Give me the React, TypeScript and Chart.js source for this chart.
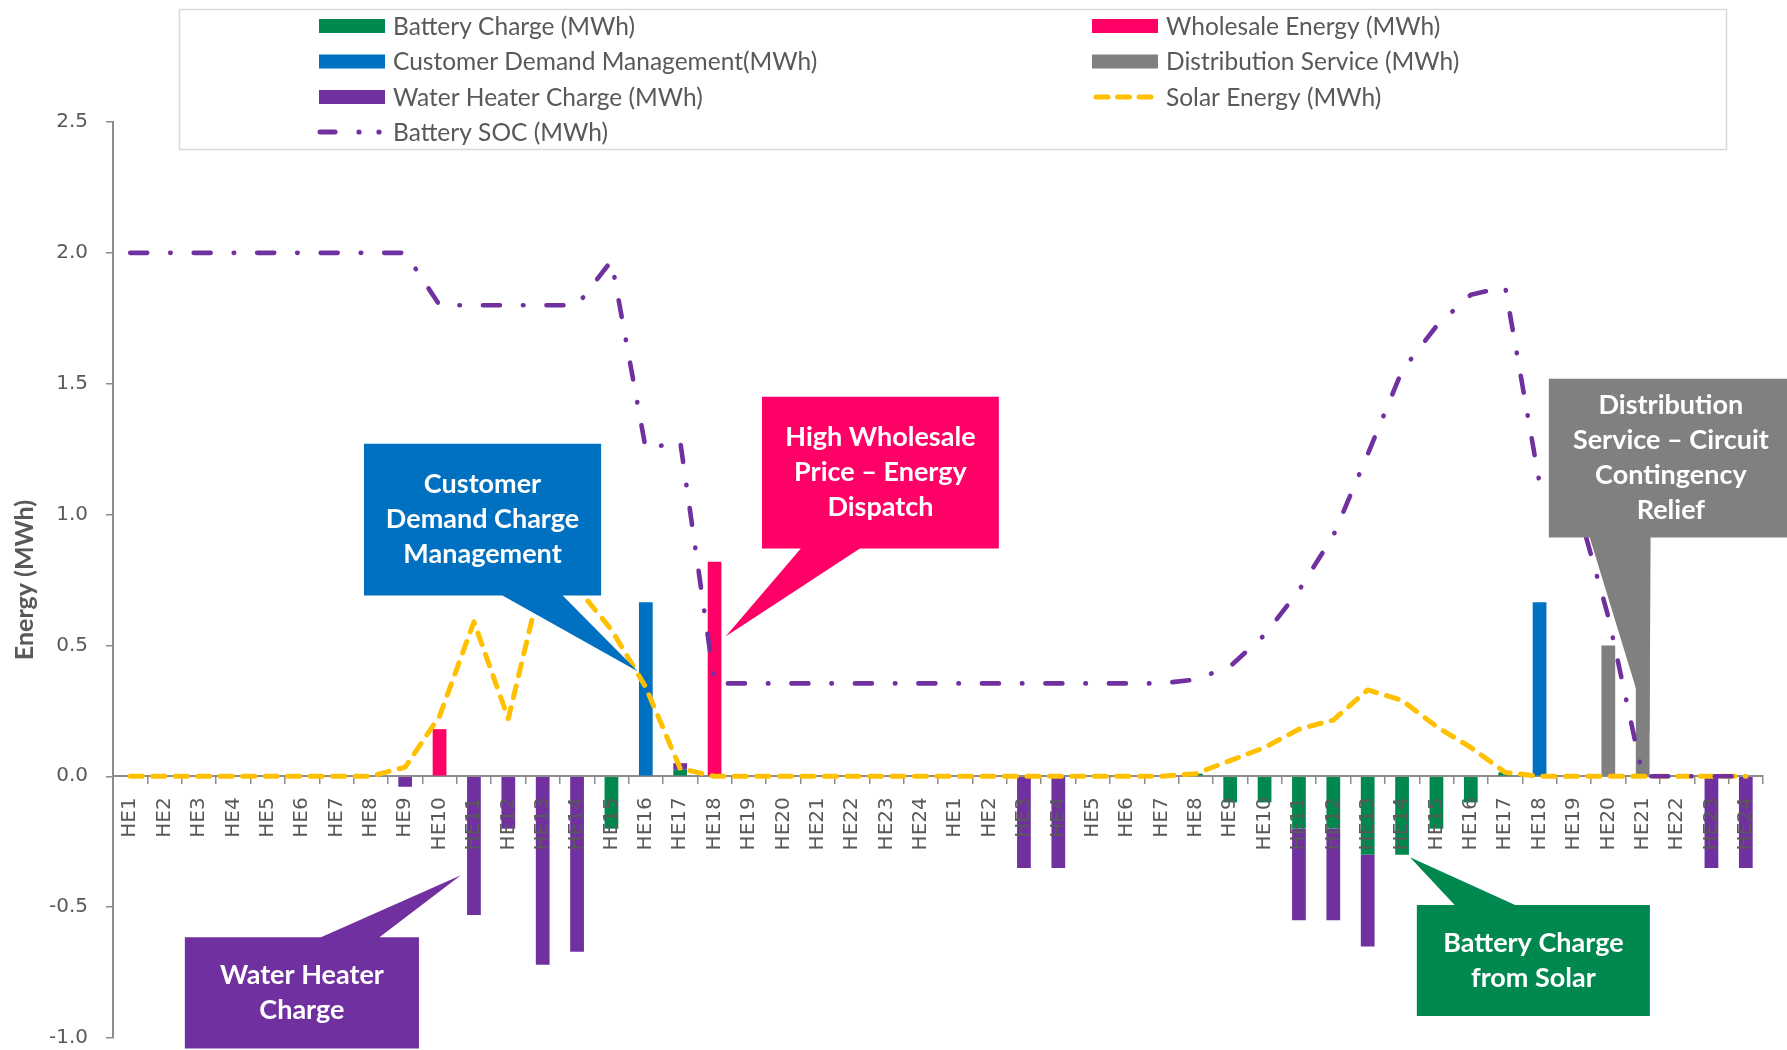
import React, { useEffect, useRef } from "react";
import { Chart, registerables } from "chart.js";
Chart.register(...registerables);

const hours = [
  "HE1", "HE2", "HE3", "HE4", "HE5", "HE6", "HE7", "HE8", "HE9", "HE10", "HE11", "HE12",
  "HE13", "HE14", "HE15", "HE16", "HE17", "HE18", "HE19", "HE20", "HE21", "HE22", "HE23", "HE24",
  "HE1", "HE2", "HE3", "HE4", "HE5", "HE6", "HE7", "HE8", "HE9", "HE10", "HE11", "HE12",
  "HE13", "HE14", "HE15", "HE16", "HE17", "HE18", "HE19", "HE20", "HE21", "HE22", "HE23", "HE24",
];

const batteryCharge = [
  0, 0, 0, 0, 0, 0, 0, 0, 0, 0, 0, 0, 0, 0, -0.2, 0, 0.025, 0, 0, 0, 0, 0, 0, 0,
  0, 0, 0, 0, 0, 0, 0, 0.01, -0.1, -0.1, -0.2, -0.2, -0.3, -0.3, -0.2, -0.1, 0.015, 0, 0, 0, 0, 0, 0, 0,
];
const waterHeater = [
  0, 0, 0, 0, 0, 0, 0, 0, -0.04, 0, -0.53, -0.2, -0.72, -0.67, 0, 0, 0.025, 0, 0, 0, 0, 0, 0, 0,
  0, 0, -0.35, -0.35, 0, 0, 0, 0, 0, 0, -0.35, -0.35, -0.35, 0, 0, 0, 0, 0, 0, 0, 0, 0, -0.35, -0.35,
];
const customerDemand = [
  0, 0, 0, 0, 0, 0, 0, 0, 0, 0, 0, 0, 0, 0, 0, 0.665, 0, 0, 0, 0, 0, 0, 0, 0,
  0, 0, 0, 0, 0, 0, 0, 0, 0, 0, 0, 0, 0, 0, 0, 0, 0, 0.665, 0, 0, 0, 0, 0, 0,
];
const wholesale = [
  0, 0, 0, 0, 0, 0, 0, 0, 0, 0.18, 0, 0, 0, 0, 0, 0, 0, 0.82, 0, 0, 0, 0, 0, 0,
  0, 0, 0, 0, 0, 0, 0, 0, 0, 0, 0, 0, 0, 0, 0, 0, 0, 0, 0, 0, 0, 0, 0, 0,
];
const distribution = [
  0, 0, 0, 0, 0, 0, 0, 0, 0, 0, 0, 0, 0, 0, 0, 0, 0, 0, 0, 0, 0, 0, 0, 0,
  0, 0, 0, 0, 0, 0, 0, 0, 0, 0, 0, 0, 0, 0, 0, 0, 0, 0, 0, 0.5, 0.5, 0, 0, 0,
];
const solar = [
  0, 0, 0, 0, 0, 0, 0, 0, 0.035, 0.23, 0.59, 0.22, 0.77, 0.72, 0.56, 0.34, 0.03, 0, 0, 0, 0, 0, 0, 0,
  0, 0, 0, 0, 0, 0, 0, 0.01, 0.06, 0.11, 0.18, 0.215, 0.33, 0.29, 0.19, 0.11, 0.015, 0, 0, 0, 0, 0, 0, 0,
];
const batterySoc = [
  2, 2, 2, 2, 2, 2, 2, 2, 2, 1.8, 1.8, 1.8, 1.8, 1.8, 1.97, 1.25, 1.28, 0.355, 0.355, 0.355, 0.355, 0.355, 0.355, 0.355,
  0.355, 0.355, 0.355, 0.355, 0.355, 0.355, 0.355, 0.37, 0.42, 0.54, 0.71, 0.92, 1.23, 1.55, 1.72, 1.84, 1.87, 1.12, 1.08, 0.61, 0, 0, 0, 0,
];

const yTicks = [-1, -0.5, 0, 0.5, 1, 1.5, 2, 2.5];

const GREEN = "#00884F";
const PINK = "#FF0066";
const BLUE = "#0070C0";
const GRAY = "#808080";
const PURPLE = "#7030A0";
const YELLOW = "#FFC000";
const AXIS = "#8C8C8C";
const TEXT = "#595959";
const CAL = "Lato, 'Open Sans', sans-serif";
const TICKFONT = "'DejaVu Sans', Verdana, sans-serif";

const SOC_DASH = [17, 23, 0.5, 23];
const SOLAR_DASH = [12, 10.5];

// callouts anchored in data space: x in category index, y in MWh
const callouts = [
  { lines: ["Customer", "Demand Charge", "Management"], color: BLUE, x0: 6.8, x1: 13.7, y0: 1.271, y1: 0.691, b0: 10.83, b1: 12.58, tipX: 14.77, tipY: 0.4 },
  { lines: ["High Wholesale", "Price \u2013 Energy", "Dispatch"], color: PINK, x0: 18.38, x1: 25.27, y0: 1.45, y1: 0.87, b0: 19.51, b1: 21.23, tipX: 17.32, tipY: 0.534 },
  { lines: ["Water Heater", "Charge"], color: PURPLE, x0: 1.59, x1: 8.4, y0: -0.615, y1: -1.04, b0: 5.55, b1: 7.25, tipX: 9.62, tipY: -0.378 },
  { lines: ["Battery Charge", "from Solar"], color: GREEN, x0: 37.43, x1: 44.21, y0: -0.492, y1: -0.916, b0: 38.53, b1: 40.29, tipX: 37.23, tipY: -0.309 },
  { lines: ["Distribution", "Service \u2013 Circuit", "Contingency", "Relief"], color: GRAY, x0: 41.27, x1: 48.37, y0: 1.519, y1: 0.912, b0: 42.46, b1: 44.23, tipX: 44.2, tipY: 0.165 },
];

type LegendItem = { label: string; kind: "rect" | "solar" | "soc"; color: string };
const legendItems: LegendItem[] = [
  { label: "Battery Charge (MWh)", kind: "rect", color: GREEN },
  { label: "Wholesale Energy (MWh)", kind: "rect", color: PINK },
  { label: "Customer Demand Management(MWh)", kind: "rect", color: BLUE },
  { label: "Distribution Service (MWh)", kind: "rect", color: GRAY },
  { label: "Water Heater Charge (MWh)", kind: "rect", color: PURPLE },
  { label: "Solar Energy (MWh)", kind: "solar", color: YELLOW },
  { label: "Battery SOC (MWh)", kind: "soc", color: PURPLE },
];

function drawLegend(ctx: CanvasRenderingContext2D) {
  ctx.save();
  ctx.fillStyle = "#ffffff";
  ctx.fillRect(179, 9, 1547, 140);
  ctx.strokeStyle = "#D9D9D9";
  ctx.lineWidth = 1.5;
  ctx.strokeRect(179.5, 9.5, 1547, 140);
  const colSw = [319, 1092];
  const colTx = [393, 1166];
  const rowY = [26, 61.5, 97, 132];
  ctx.font = `24.5px ${CAL}`;
  ctx.textBaseline = "middle";
  ctx.textAlign = "left";
  legendItems.forEach((it, i) => {
    const col = i % 2;
    const row = Math.floor(i / 2);
    const x = colSw[col];
    const y = rowY[row];
    if (it.kind === "rect") {
      ctx.fillStyle = it.color;
      ctx.fillRect(x, y - 7, 66, 14);
    } else if (it.kind === "solar") {
      ctx.strokeStyle = it.color;
      ctx.lineWidth = 5;
      ctx.lineCap = "round";
      ctx.setLineDash([12, 9.5]);
      ctx.beginPath();
      ctx.moveTo(x + 4, y);
      ctx.lineTo(x + 64, y);
      ctx.stroke();
      ctx.setLineDash([]);
    } else {
      ctx.strokeStyle = it.color;
      ctx.lineWidth = 5;
      ctx.lineCap = "round";
      ctx.beginPath();
      ctx.moveTo(x + 1, y);
      ctx.lineTo(x + 16, y);
      ctx.stroke();
      ctx.fillStyle = it.color;
      [40, 60].forEach((dx) => {
        ctx.beginPath();
        ctx.arc(x + dx, y, 2.6, 0, Math.PI * 2);
        ctx.fill();
      });
    }
    ctx.fillStyle = TEXT;
    ctx.fillText(it.label, colTx[col], y + 1);
  });
  ctx.restore();
}

function drawCallouts(chart: any) {
  const ctx: CanvasRenderingContext2D = chart.ctx;
  const xs = chart.scales.x;
  const ys = chart.scales.y;
  const px = (v: number) => xs.getPixelForValue(v);
  const py = (v: number) => ys.getPixelForValue(v);
  ctx.save();
  callouts.forEach((c) => {
    const L = px(c.x0), R = px(c.x1), T = py(c.y0), B = py(c.y1);
    const b0 = px(c.b0), b1 = px(c.b1), tx = px(c.tipX), ty = py(c.tipY);
    ctx.fillStyle = c.color;
    ctx.beginPath();
    if (ty > B) {
      ctx.moveTo(L, T); ctx.lineTo(R, T); ctx.lineTo(R, B);
      ctx.lineTo(b1, B); ctx.lineTo(tx, ty); ctx.lineTo(b0, B);
      ctx.lineTo(L, B);
    } else {
      ctx.moveTo(L, T); ctx.lineTo(b0, T); ctx.lineTo(tx, ty); ctx.lineTo(b1, T);
      ctx.lineTo(R, T); ctx.lineTo(R, B); ctx.lineTo(L, B);
    }
    ctx.closePath();
    ctx.fill();
    ctx.fillStyle = "#ffffff";
    ctx.font = `bold 27px ${CAL}`;
    ctx.textAlign = "center";
    ctx.textBaseline = "middle";
    const lh = 35;
    const cx = (L + Math.min(R, 1793)) / 2;
    const cy = (T + B) / 2;
    const n = c.lines.length;
    c.lines.forEach((s, i) => {
      ctx.fillText(s, cx, cy + (i - (n - 1) / 2) * lh);
    });
  });
  ctx.restore();
}

const overlayPlugin = {
  id: "overlay",
  afterDraw(chart: any) {
    drawLegend(chart.ctx);
    drawCallouts(chart);
  },
};

export default function App() {
  const ref = useRef<HTMLCanvasElement | null>(null);
  useEffect(() => {
    if (!ref.current) return;
    const barCommon = { type: "bar" as const, stack: "bars", order: 2, barPercentage: 0.4, categoryPercentage: 1.0, borderWidth: 0 };
    const chart = new Chart(ref.current, {
      type: "bar",
      data: {
        labels: hours,
        datasets: [
          { ...barCommon, label: "Battery Charge (MWh)", data: batteryCharge, backgroundColor: GREEN },
          { ...barCommon, label: "Water Heater Charge (MWh)", data: waterHeater, backgroundColor: PURPLE },
          { ...barCommon, label: "Customer Demand Management(MWh)", data: customerDemand, backgroundColor: BLUE },
          { ...barCommon, label: "Wholesale Energy (MWh)", data: wholesale, backgroundColor: PINK },
          { ...barCommon, label: "Distribution Service (MWh)", data: distribution, backgroundColor: GRAY },
          {
            type: "line", label: "Solar Energy (MWh)", data: solar, stack: "solar", order: 1,
            borderColor: YELLOW, borderWidth: 5, borderDash: SOLAR_DASH, borderCapStyle: "round",
            borderJoinStyle: "round", pointRadius: 0, tension: 0, fill: false,
          } as any,
          {
            type: "line", label: "Battery SOC (MWh)", data: batterySoc, stack: "soc", order: 0,
            borderColor: PURPLE, borderWidth: 4.6, borderDash: SOC_DASH, borderCapStyle: "round",
            borderJoinStyle: "round", pointRadius: 0, tension: 0, fill: false,
          } as any,
        ],
      },
      options: {
        animation: false,
        responsive: false,
        devicePixelRatio: 1,
        layout: { padding: { left: 0, right: 24, top: 122, bottom: 12 } },
        plugins: { legend: { display: false }, tooltip: { enabled: false }, title: { display: false } },
        scales: {
          x: {
            stacked: true,
            position: { y: 0 } as any,
            offset: true,
            grid: { offset: true, drawOnChartArea: false, drawTicks: true, tickLength: 7, color: AXIS, lineWidth: 1.5 },
            border: { display: true, color: AXIS, width: 2 },
            ticks: {
              autoSkip: false, maxRotation: 90, minRotation: 90, padding: 14, color: TEXT,
              font: { family: TICKFONT, size: 20 }, z: 1,
            },
          },
          y: {
            stacked: true,
            min: yTicks[0],
            max: yTicks[yTicks.length - 1],
            afterFit: (s: any) => { s.width = 113; s.paddingTop = 0; s.paddingBottom = 0; },
            afterBuildTicks: (s: any) => { s.ticks = yTicks.map((v) => ({ value: v })); },
            ticks: {
              stepSize: 0.5, color: TEXT, padding: 18,
              font: { family: TICKFONT, size: 20 },
              callback: (v: any) => Number(v).toFixed(1),
            },
            grid: { drawOnChartArea: false, drawTicks: true, tickLength: 7, color: AXIS, lineWidth: 1.5 },
            border: { display: true, color: AXIS, width: 2 },
            title: {
              display: true, text: "Energy (MWh)", color: TEXT,
              font: { family: CAL, size: 25, weight: "bold" }, padding: { top: 10, bottom: 0 },
            },
          },
        },
      },
      plugins: [overlayPlugin],
    });
    return () => chart.destroy();
  }, []);
  return (
    <div style={{ position: "fixed", left: 0, top: 0, width: 1787, height: 1050, background: "#fff" }}>
      <canvas ref={ref} width={1787} height={1050} style={{ display: "block", width: 1787, height: 1050 }} />
    </div>
  );
}
